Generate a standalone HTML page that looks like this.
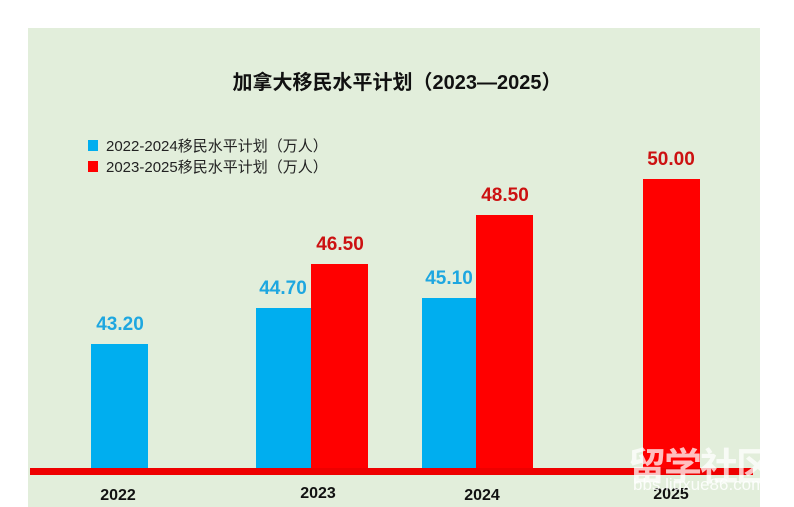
<!DOCTYPE html>
<html><head><meta charset="utf-8"><style>
body{margin:0;width:794px;height:507px;background:#fff;position:relative;overflow:hidden;font-family:"Liberation Sans","Noto Sans CJK SC",sans-serif}
.a{position:absolute;white-space:nowrap}
.bar{position:absolute}
.b{background:#00aeef}.r{background:#ff0000}
.v{position:absolute;font-weight:bold;font-size:19px;width:80px;text-align:center}
.x{position:absolute;font-weight:bold;font-size:16px;width:80px;text-align:center;color:#111}
</style></head><body>
<div class="a" style="left:28px;top:28px;width:732px;height:479px;background:#e2eedb"></div>
<div class="a" style="left:0;top:66px;width:794px;text-align:center;font-size:20px;font-weight:bold;color:#111">加拿大移民水平计划（2023—2025）</div>
<div class="a" style="left:88px;top:140px;width:10px;height:11px;background:#00aeef"></div>
<div class="a" style="left:106px;top:135px;font-size:15px;color:#222">2022-2024移民水平计划（万人）</div>
<div class="a" style="left:88px;top:161px;width:10px;height:11px;background:#ff0000"></div>
<div class="a" style="left:106px;top:156px;font-size:15px;color:#222">2023-2025移民水平计划（万人）</div>
<div class="bar b" style="left:91px;top:344px;width:57px;height:126px"></div>
<div class="bar b" style="left:256px;top:308px;width:55px;height:162px"></div>
<div class="bar r" style="left:311px;top:264px;width:57px;height:206px"></div>
<div class="bar b" style="left:422px;top:298px;width:54px;height:172px"></div>
<div class="bar r" style="left:476px;top:215px;width:57px;height:255px"></div>
<div class="bar r" style="left:643px;top:179px;width:57px;height:291px"></div>
<div class="a" style="left:30px;top:468px;width:723px;height:7px;background:#ee0000"></div>
<div class="v" style="left:80px;top:314px;color:#1ea7e0">43.20</div>
<div class="v" style="left:243px;top:278px;color:#1ea7e0">44.70</div>
<div class="v" style="left:300px;top:234px;color:#cc1111">46.50</div>
<div class="v" style="left:409px;top:268px;color:#1ea7e0">45.10</div>
<div class="v" style="left:465px;top:185px;color:#cc1111">48.50</div>
<div class="v" style="left:631px;top:149px;color:#cc1111">50.00</div>
<div class="x" style="left:78px;top:487px">2022</div>
<div class="x" style="left:278px;top:485px">2023</div>
<div class="x" style="left:442px;top:487px">2024</div>
<div class="x" style="left:631px;top:486px">2025</div>
<div class="a" style="left:628px;top:436px;font-size:38px;font-weight:bold;color:rgba(255,255,255,0.75);letter-spacing:-2px">留学社区</div>
<div class="a" style="left:633px;top:475px;font-size:17px;color:rgba(255,255,255,0.85)">bbs.liuxue86.com</div>
</body></html>
